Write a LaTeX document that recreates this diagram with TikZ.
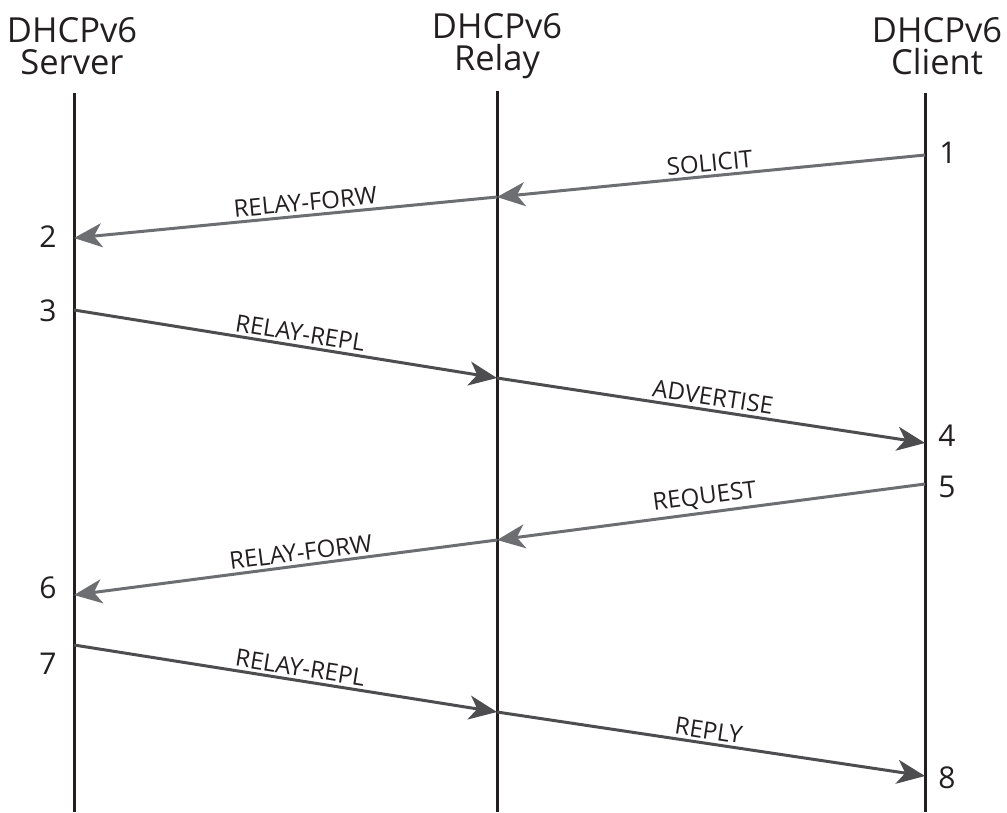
\documentclass[tikz,border=0pt]{standalone}
\usepackage{fontspec}
\setmainfont{Open Sans}
\usetikzlibrary{arrows.meta}
\definecolor{lifec}{HTML}{231F20}
\definecolor{lightarr}{HTML}{6D6E71}
\definecolor{darkarr}{HTML}{4D4D4F}
\tikzset{
  life/.style={draw=lifec, line width=3pt},
  title/.style={font=\fontsize{34.5}{32}\selectfont, text=lifec, align=center, inner sep=0pt},
  num/.style={font=\fontsize{30}{30}\selectfont, text=lifec, inner sep=0pt},
  msg/.style={font=\fontsize{24}{24}\selectfont, text=lifec, inner sep=3pt},
  larr/.style={draw=lightarr, line width=3pt, -{Stealth[length=28pt, width=24pt, inset=8pt]}},
  darr/.style={draw=darkarr, line width=3pt, -{Stealth[length=28pt, width=24pt, inset=8pt]}},
}
\begin{document}
\begin{tikzpicture}[x=1pt, y=-1pt]
\useasboundingbox (0,0) rectangle (1007,812);
% titles
\node[title] (ts) at (72,46) {DHCPv6\\Server};
\node[title] (tr) at (497,46) {DHCPv6\\Relay};
\node[title] (tc) at (937,46) {DHCPv6\\Client};
% lifelines
\coordinate (s0) at (74,93);  \coordinate (s1) at (74,812);
\coordinate (r0) at (497,91); \coordinate (r1) at (497,812);
\coordinate (c0) at (925,93); \coordinate (c1) at (925,812);
\draw[life] (s0) -- (s1);
\draw[life] (r0) -- (r1);
\draw[life] (c0) -- (c1);
% message points
\coordinate (p1) at (925,155);
\coordinate (p1r) at (497,197);
\coordinate (p2) at (74,238);
\coordinate (p3) at (74,310);
\coordinate (p3r) at (497,378);
\coordinate (p4) at (925,443);
\coordinate (p5) at (925,484);
\coordinate (p5r) at (497,540);
\coordinate (p6) at (74,595);
\coordinate (p7) at (74,645);
\coordinate (p7r) at (497,712);
\coordinate (p8) at (925,776);
% arrows
\draw[larr] (p1) -- node[msg, pos=0.5, above, sloped] {SOLICIT} (p1r);
\draw[larr] (p1r) -- node[msg, pos=0.45, above, sloped] {RELAY-FORW} (p2);
\draw[darr] (p3) -- node[msg, pos=0.53, above, sloped] {RELAY-REPL} (p3r);
\draw[darr] (p3r) -- node[msg, pos=0.5, above, sloped] {ADVERTISE} (p4);
\draw[larr] (p5) -- node[msg, pos=0.51, above, sloped] {REQUEST} (p5r);
\draw[larr] (p5r) -- node[msg, pos=0.46, above, sloped] {RELAY-FORW} (p6);
\draw[darr] (p7) -- node[msg, pos=0.53, above, sloped] {RELAY-REPL} (p7r);
\draw[darr] (p7r) -- node[msg, pos=0.49, above, sloped] {REPLY} (p8);
% numbers
\node[num] (n1) at (948,153) {1};
\node[num] (n2) at (48,237) {2};
\node[num] (n3) at (48,311) {3};
\node[num] (n4) at (947,436) {4};
\node[num] (n5) at (947,487) {5};
\node[num] (n6) at (48,588) {6};
\node[num] (n7) at (48,664) {7};
\node[num] (n8) at (947,778) {8};
\end{tikzpicture}
\end{document}
